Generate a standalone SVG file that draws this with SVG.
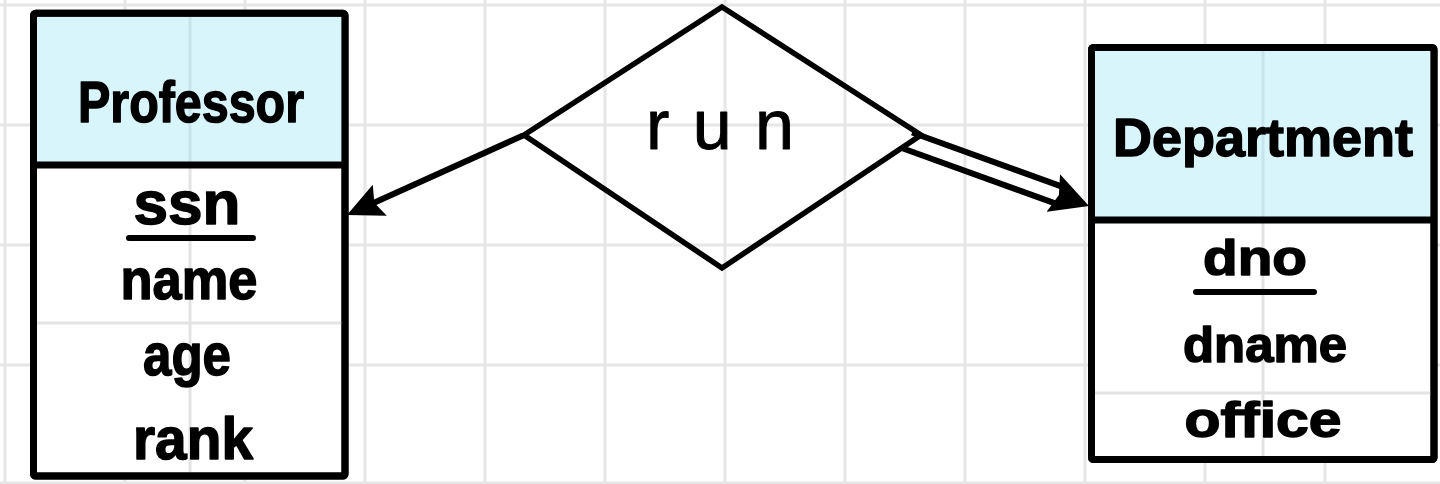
<svg xmlns="http://www.w3.org/2000/svg" width="1440" height="484" viewBox="0 0 1440 484">
<style>
.grid line{stroke:#e6e6e6;stroke-width:3}
.ingrid{stroke:#e3e3e3;stroke-width:3}
.hgrid{stroke:#c6e4ec;stroke-width:3}
.box{fill:#ffffff;stroke:#000;stroke-width:7;stroke-linejoin:round}
.head{fill:#d9f5fc}
.div{stroke:#000;stroke-width:7}
.title{font-family:"Liberation Sans",Arial,sans-serif;font-weight:bold;fill:#000;stroke:#000;stroke-width:1.5;stroke-linejoin:round;text-anchor:middle}
.attr{font-family:"Liberation Sans",Arial,sans-serif;font-weight:bold;fill:#000;stroke:#000;stroke-width:1.5;stroke-linejoin:round;text-anchor:middle}
.ul{stroke:#000;stroke-width:6;stroke-linecap:round}
.conn{stroke:#000;stroke-width:6;fill:none}
.rel{fill:none;stroke:#000;stroke-width:5.5;stroke-linejoin:miter}
.rtext{font-family:"Liberation Sans",Arial,sans-serif;font-weight:normal;fill:#000;stroke:#000;stroke-width:1;stroke-linejoin:round;text-anchor:middle}
</style>
<defs>
<marker id="arrow" viewBox="0 0 36 34" refX="16" refY="17" markerWidth="36" markerHeight="34" markerUnits="userSpaceOnUse" orient="auto">
<path d="M0,0 L36,17 L0,34 L6,17 Z" fill="#000"/>
</marker>
<marker id="arrowLg" viewBox="0 0 38 40" refX="18" refY="20" markerWidth="38" markerHeight="40" markerUnits="userSpaceOnUse" orient="auto">
<path d="M0,0 L38,20 L0,40 L6,20 Z" fill="#000"/>
</marker>
</defs>
<rect width="1440" height="484" fill="#ffffff"/>
<g class="grid" id="grid">
<line x1="0" y1="5" x2="1440" y2="5"/>
<line x1="0" y1="125" x2="1440" y2="125"/>
<line x1="0" y1="245" x2="1440" y2="245"/>
<line x1="0" y1="365" x2="1440" y2="365"/>
<line x1="0" y1="483" x2="1440" y2="483"/>
<line x1="5" y1="0" x2="5" y2="484"/>
<line x1="125" y1="0" x2="125" y2="484"/>
<line x1="245" y1="0" x2="245" y2="484"/>
<line x1="365" y1="0" x2="365" y2="484"/>
<line x1="485" y1="0" x2="485" y2="484"/>
<line x1="605" y1="0" x2="605" y2="484"/>
<line x1="725" y1="0" x2="725" y2="484"/>
<line x1="845" y1="0" x2="845" y2="484"/>
<line x1="965" y1="0" x2="965" y2="484"/>
<line x1="1085" y1="0" x2="1085" y2="484"/>
<line x1="1205" y1="0" x2="1205" y2="484"/>
<line x1="1325" y1="0" x2="1325" y2="484"/>
</g>
<g id="professor">
<rect class="box" x="33.5" y="13.3" width="311.5" height="462.7" rx="2"/>
<rect class="head" x="37" y="16.8" width="304.5" height="148"/>
<line class="hgrid" x1="190" y1="17" x2="190" y2="162"/>
<line class="ingrid" x1="190" y1="168" x2="190" y2="472"/>
<line class="ingrid" x1="37" y1="323" x2="341.5" y2="323"/>
<line class="div" x1="33.5" y1="165" x2="345" y2="165"/>
<rect x="33.5" y="13.3" width="311.5" height="462.7" rx="2" fill="none" stroke="#000" stroke-width="7"/>
<text class="title" x="191" y="122" font-size="58" textLength="226" lengthAdjust="spacingAndGlyphs">Professor</text>
<text class="attr" x="187" y="224" font-size="62" textLength="107" lengthAdjust="spacingAndGlyphs">ssn</text>
<line class="ul" x1="129" y1="238" x2="253" y2="238"/>
<text class="attr" x="189" y="299" font-size="58" textLength="137" lengthAdjust="spacingAndGlyphs">name</text>
<text class="attr" x="187" y="375" font-size="60" textLength="88" lengthAdjust="spacingAndGlyphs">age</text>
<text class="attr" x="193" y="459" font-size="60" textLength="120" lengthAdjust="spacingAndGlyphs">rank</text>
</g>
<g id="department">
<rect class="box" x="1091.5" y="47.5" width="342.5" height="412" rx="2"/>
<rect class="head" x="1095" y="51" width="335.5" height="169"/>
<line class="hgrid" x1="1263" y1="51" x2="1263" y2="217"/>
<line class="ingrid" x1="1263" y1="223" x2="1263" y2="456"/>
<line class="ingrid" x1="1095" y1="393" x2="1430.5" y2="393"/>
<line class="div" x1="1091.5" y1="220" x2="1434" y2="220"/>
<rect x="1091.5" y="47.5" width="342.5" height="412" rx="2" fill="none" stroke="#000" stroke-width="7"/>
<text class="title" x="1263" y="156" font-size="54" textLength="300" lengthAdjust="spacingAndGlyphs">Department</text>
<text class="attr" x="1255" y="275" font-size="50" textLength="104" lengthAdjust="spacingAndGlyphs">dno</text>
<line class="ul" x1="1196" y1="292" x2="1314" y2="292"/>
<text class="attr" x="1265" y="362" font-size="50" textLength="164" lengthAdjust="spacingAndGlyphs">dname</text>
<text class="attr" x="1263" y="437" font-size="50" textLength="157" lengthAdjust="spacingAndGlyphs">office</text>
</g>
<g id="run">
<polygon class="rel" points="722,7 921,135 722,268 524,135"/>
<text class="rtext" x="720" y="149" font-size="70" textLength="148" lengthAdjust="spacing">run</text>
</g>
<g id="connectors">
<path class="conn" d="M523,135.5 L365.2,206.8" marker-end="url(#arrow)"/>
<line class="conn" x1="912.1" y1="132.5" x2="1064.8" y2="187.6"/>
<line class="conn" x1="903.1" y1="148.5" x2="1058.6" y2="204.6"/>
<path d="M909,141 L1070.2,199.2" fill="none" stroke="none" stroke-width="1" marker-end="url(#arrowLg)"/>
</g>
</svg>
